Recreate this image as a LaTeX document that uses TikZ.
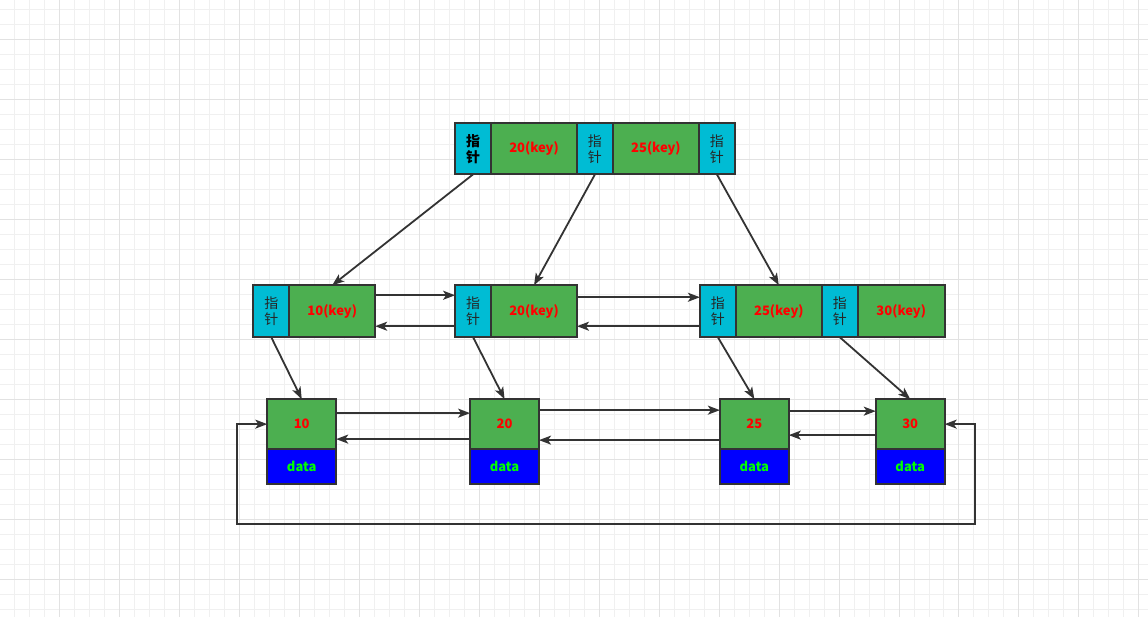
\documentclass[tikz,border=0pt]{standalone}
\usepackage{fontspec}
\setmainfont{Noto Sans CJK SC}
\usepackage{tikz}
\usetikzlibrary{positioning,arrows.meta,calc}

\definecolor{linegray}{HTML}{333333}
\definecolor{ptrcyan}{HTML}{00BCD4}
\definecolor{keygreen}{HTML}{4CAF50}
\definecolor{datblue}{HTML}{0000FF}
\definecolor{datgreen}{HTML}{00FF00}
\definecolor{keyred}{HTML}{FF0000}
\definecolor{minorgrid}{HTML}{F0F0F0}
\definecolor{majorgrid}{HTML}{E2E2E2}

\tikzset{
  cell/.style={draw=linegray, line width=2pt, outer sep=0pt, inner sep=0pt,
    minimum height=51pt, font=\fontsize{13}{15.5}\selectfont\bfseries},
  ptr/.style={cell, fill=ptrcyan, minimum width=36pt, align=center, text=black!85,
    font=\fontsize{14}{16}\selectfont},
  key/.style={cell, fill=keygreen, minimum width=86pt, text=keyred},
  val/.style={cell, fill=keygreen, minimum width=69pt, minimum height=50pt, text=keyred},
  dat/.style={cell, fill=datblue, minimum width=69pt, minimum height=35pt, text=datgreen},
  link/.style={-{Stealth[length=12pt,width=9pt,inset=3pt]}, draw=linegray, line width=1.8pt},
  ring/.style={{Stealth[length=12pt,width=9pt,inset=3pt]}-{Stealth[length=12pt,width=9pt,inset=3pt]},
    draw=linegray, line width=1.8pt}
}

\begin{document}
\begin{tikzpicture}[x=1pt,y=-1pt]
  \fill[white] (0,0) rectangle (1148,617);
  \foreach \i in {0,...,75} {
    \draw[minorgrid, line width=1pt] ({14.3+15*\i},0) -- ++(0,617);
  }
  \foreach \i in {0,...,40} {
    \draw[minorgrid, line width=1pt] (0,{9.3+15*\i}) -- ++(1148,0);
  }
  \foreach \i in {0,...,18} {
    \draw[majorgrid, line width=1pt] ({59.3+60*\i},0) -- ++(0,617);
  }
  \foreach \i in {0,...,9} {
    \draw[majorgrid, line width=1pt] (0,{39.3+60*\i}) -- ++(1148,0);
  }
  \useasboundingbox (0,0) rectangle (1148,617);

  \node[ptr, anchor=north west, font=\fontsize{14}{16}\selectfont\bfseries, text=black] (t0) at (455,123) {指\\针};
  \node[key, right=0pt of t0] (t1) {20(key)};
  \node[ptr, right=0pt of t1] (t2) {指\\针};
  \node[key, right=0pt of t2] (t3) {25(key)};
  \node[ptr, right=0pt of t3] (t4) {指\\针};

  \node[ptr, anchor=north west, minimum height=52pt] (m1p) at (253,285) {指\\针};
  \node[key, right=0pt of m1p, minimum height=52pt] (m1k) {10(key)};
  \node[ptr, anchor=north west, minimum height=52pt] (m2p) at (455,285) {指\\针};
  \node[key, right=0pt of m2p, minimum height=52pt] (m2k) {20(key)};
  \node[ptr, anchor=north west, minimum height=52pt] (m3p) at (700,285) {指\\针};
  \node[key, right=0pt of m3p, minimum height=52pt] (m3k) {25(key)};
  \node[ptr, right=0pt of m3k, minimum height=52pt] (m3q) {指\\针};
  \node[key, right=0pt of m3q, minimum height=52pt, minimum width=87pt] (m3l) {30(key)};

  \node[val, anchor=north west] (b1) at (267,399) {10};
  \node[dat, below=0pt of b1] (d1) {data};
  \node[val, anchor=north west] (b2) at (470,399) {20};
  \node[dat, below=0pt of b2] (d2) {data};
  \node[val, anchor=north west] (b3) at (720,399) {25};
  \node[dat, below=0pt of b3] (d3) {data};
  \node[val, anchor=north west] (b4) at (876,399) {30};
  \node[dat, below=0pt of b4] (d4) {data};

  \draw[link] (t0.south) -- (m1k.north);
  \draw[link] (t2.south) -- (m2k.north);
  \draw[link] (t4.south) -- (m3k.north);

  \draw[link] (m1p.south) -- (b1.north);
  \draw[link] (m2p.south) -- (b2.north);
  \draw[link] (m3p.south) -- (b3.north);
  \draw[link] (m3q.south) -- (b4.north);

  \draw[link] ([yshift=16pt]m1k.east) -- ([yshift=16pt]m2p.west);
  \draw[link] ([yshift=-15pt]m2p.west) -- ([yshift=-15pt]m1k.east);
  \draw[link] ([yshift=14pt]m2k.east) -- ([yshift=14pt]m3p.west);
  \draw[link] ([yshift=-15pt]m3p.west) -- ([yshift=-15pt]m2k.east);

  \draw[link] ([yshift=11pt]b1.east) -- ([yshift=11pt]b2.west);
  \draw[link] ([yshift=-15pt]b2.west) -- ([yshift=-15pt]b1.east);
  \draw[link] ([yshift=14pt]b2.east) -- ([yshift=14pt]b3.west);
  \draw[link] ([yshift=-16pt]b3.west) -- ([yshift=-16pt]b2.east);
  \draw[link] ([yshift=13pt]b3.east) -- ([yshift=13pt]b4.west);
  \draw[link] ([yshift=-11pt]b4.west) -- ([yshift=-11pt]b3.east);

  \draw[ring] (b1.west) -- ++(-30,0) |- ($(b4.east)+(30,100)$) |- (b4.east);
\end{tikzpicture}
\end{document}
